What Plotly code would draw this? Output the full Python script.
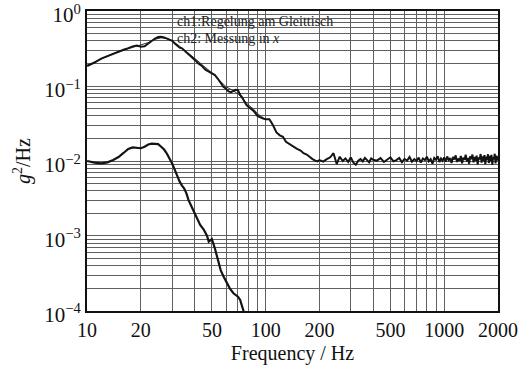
import plotly.graph_objects as go

# ---- data ----
upper_f = ([10, 11, 12, 13, 14, 15, 16, 17, 18, 19, 20, 21, 22, 23, 24, 25, 26, 27, 28, 29,
            30, 31, 32, 33, 34, 35, 36]
           + [38, 40, 42, 44, 46, 48, 50, 52, 54, 56, 58, 60, 62, 64, 66, 68, 70, 72, 74, 76, 78, 80]
           + [83, 86, 90, 93, 96, 100, 105, 110, 115, 120, 125, 130]
           + [137, 143, 150, 157, 163, 170, 177, 183, 190, 195]
           + list(range(200, 410, 10)) + list(range(420, 1020, 20)) + list(range(1020, 2020, 20)))
upper_v = ([0.185, 0.205, 0.232, 0.252, 0.27, 0.288, 0.305, 0.32, 0.338, 0.346,
            0.335, 0.34, 0.37, 0.40, 0.43, 0.45, 0.455, 0.445, 0.43, 0.42,
            0.40, 0.37, 0.345, 0.325, 0.318, 0.30, 0.28]
           + [0.25, 0.225, 0.20, 0.185, 0.165, 0.155, 0.148, 0.14, 0.125, 0.11, 0.098,
              0.092, 0.085, 0.083, 0.085, 0.089, 0.088, 0.076, 0.07, 0.063, 0.056, 0.053]
           + [0.05, 0.046, 0.04, 0.038, 0.037, 0.036, 0.036, 0.030, 0.024, 0.022, 0.021, 0.018]
           + [0.0165, 0.0155, 0.0145, 0.0138, 0.0127, 0.0122, 0.0112, 0.0106, 0.0101, 0.0099]
           + [0.0103, 0.0098, 0.0106, 0.0112, 0.0127, 0.0091, 0.0114, 0.0100, 0.0108, 0.0097,
              0.0112, 0.0095, 0.0089, 0.0101, 0.0106, 0.0099, 0.0110, 0.0102, 0.0096, 0.0108, 0.0104]
           + [0.0101, 0.0109, 0.0097, 0.0105, 0.0112, 0.0099, 0.0103, 0.0110, 0.0096, 0.0107,
              0.0101, 0.0113, 0.0098, 0.0106, 0.0100, 0.0111, 0.0095, 0.0108, 0.0103, 0.0114,
              0.0099, 0.0106, 0.0092, 0.0110, 0.0104, 0.0116, 0.0097, 0.0108, 0.0101, 0.0112]
           + [0.0098, 0.0115, 0.0103, 0.0109, 0.0094, 0.0113, 0.0105, 0.0119, 0.0097, 0.0108,
              0.0101, 0.0117, 0.0093, 0.0111, 0.0104, 0.0121, 0.0099, 0.0110, 0.0092, 0.0116,
              0.0106, 0.0122, 0.0096, 0.0113, 0.0101, 0.0118, 0.0090, 0.0112, 0.0105, 0.0124,
              0.0095, 0.0115, 0.0100, 0.0120, 0.0091, 0.0114, 0.0103, 0.0123, 0.0094, 0.0117,
              0.0099, 0.0121, 0.0089, 0.0113, 0.0106, 0.0125, 0.0093, 0.0118, 0.0101, 0.0116])

thin_f = [10, 12, 14, 16, 18, 20, 22, 24, 26, 28, 30, 33, 36, 40, 45, 50, 55, 60, 65, 70,
          75, 80, 85, 90, 95, 100]
thin_v = [0.19, 0.23, 0.27, 0.30, 0.33, 0.355, 0.38, 0.42, 0.44, 0.43, 0.40, 0.34, 0.29,
          0.235, 0.185, 0.15, 0.12, 0.098, 0.088, 0.079, 0.066, 0.056, 0.05, 0.043, 0.039, 0.036]

lower_f = [10, 11, 12, 13, 14, 15, 16, 17, 18, 19, 20, 21, 22, 23, 24, 25, 26, 27, 28, 29,
           30, 31, 32, 33, 34, 35, 36, 37, 38.5, 40, 41, 43, 45, 47, 48, 50, 52, 54,
           56, 58, 61, 63, 66, 70, 72, 75, 78]
lower_v = [0.0100, 0.0095, 0.0093, 0.0096, 0.0103, 0.0113, 0.0128, 0.0145, 0.0152, 0.0150,
           0.0148, 0.0155, 0.0166, 0.0170, 0.0170, 0.0168, 0.0155, 0.0142, 0.0125, 0.0108,
           0.0092, 0.0076, 0.0062, 0.0053, 0.0047, 0.0043, 0.0037, 0.0030,
           0.00246, 0.0020, 0.00172, 0.0014, 0.00122, 0.00100, 0.00084, 0.00091, 0.00068, 0.00048,
           0.00035, 0.00029, 0.00023, 0.00020, 0.000172, 0.000155, 0.000140, 0.000100, 0.000075]

x_ticks = [10, 20, 50, 100, 200, 500, 1000, 2000]
y_ticks = [1e-4, 1e-3, 1e-2, 1e-1, 1]
y_ticktext = ["10<sup>−4</sup>", "10<sup>−3</sup>", "10<sup>−2</sup>", "10<sup>−1</sup>", "10<sup>0</sup>"]

legend_lines = ["ch1:Regelung am Gleittisch", "ch2: Messung in <i>x</i>"]

# ---- figure ----
FONT = "Liberation Serif, Times New Roman, serif"
LINE = "#141414"
GRID = "#606060"

fig = go.Figure()
fig.add_trace(go.Scatter(x=thin_f, y=thin_v, mode="lines",
                         line=dict(color="#333333", width=1), showlegend=False))
fig.add_trace(go.Scatter(x=upper_f, y=upper_v, mode="lines",
                         line=dict(color=LINE, width=2), showlegend=False))
fig.add_trace(go.Scatter(x=lower_f, y=lower_v, mode="lines",
                         line=dict(color=LINE, width=2.2), showlegend=False))

for i, t in enumerate(legend_lines):
    fig.add_annotation(text=t, xref="paper", yref="paper", x=0.214, y=0.965 - i * 0.057,
                       xanchor="left", yanchor="middle", showarrow=False,
                       font=dict(family=FONT, size=14, color="#222222"))

fig.update_xaxes(type="log", range=[0.9995, 3.3015], tickvals=x_ticks,
                 ticktext=[str(v) for v in x_ticks], ticklabeloverflow="allow",
                 automargin=False,
                 showgrid=True, gridcolor=GRID, gridwidth=1,
                 minor=dict(dtick="D1", showgrid=True, gridcolor=GRID, gridwidth=1),
                 showline=True, mirror=True, linecolor="#111111", linewidth=2,
                 ticks="", zeroline=False,
                 title=dict(text="Frequency / Hz", font=dict(family=FONT, size=20, color="#111111"),
                            standoff=6),
                 tickfont=dict(family=FONT, size=20, color="#111111"))
fig.update_yaxes(type="log", range=[-4.001, 0.001], tickvals=y_ticks, ticktext=y_ticktext,
                 ticklabeloverflow="allow", automargin=False, ticklabelshift=4,
                 showgrid=True, gridcolor=GRID, gridwidth=1,
                 minor=dict(dtick="D1", showgrid=True, gridcolor=GRID, gridwidth=1),
                 showline=True, mirror=True, linecolor="#111111", linewidth=2,
                 ticks="", zeroline=False,
                 title=dict(text="<i>g</i><sup>2</sup>/Hz",
                            font=dict(family=FONT, size=20, color="#111111"), standoff=8),
                 tickfont=dict(family=FONT, size=21, color="#111111"))

fig.update_layout(width=519, height=369, margin=dict(l=87, r=21, t=11, b=58),
                  paper_bgcolor="white", plot_bgcolor="white",
                  font=dict(family=FONT, color="#111111"))

fig.write_html("out.html")
